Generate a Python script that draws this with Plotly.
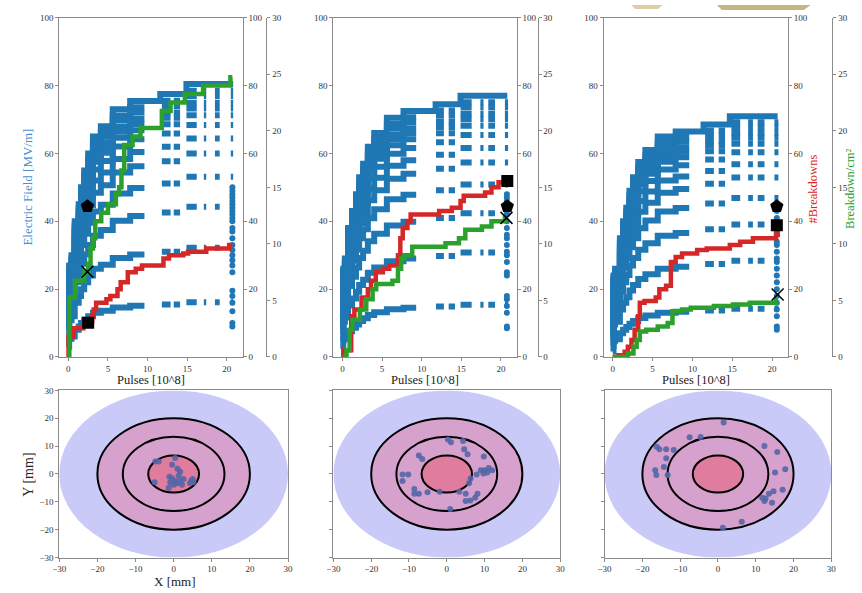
import plotly.graph_objects as go

W, H = 862, 593

# ---------------- data ----------------
PULSE_TICKS = [0, 5, 10, 15, 20]
FIELD_TICKS = [0, 20, 40, 60, 80, 100]
DENS_TICKS = [0, 5, 10, 15, 20, 25, 30]
MM_TICKS = [-30, -20, -10, 0, 10, 20, 30]

# pulse-shape sampling rows, as fraction of the stage's peak field
ROW_FRACS = [1.0, 0.975, 0.955, 0.93, 0.91, 0.885, 0.85, 0.80, 0.745, 0.66, 0.55, 0.40, 0.20]

# conditioning staircase (peak field, MV/m) per structure
ENV_X_1 = [0, 0.1, 0.4, 0.8, 1.3, 1.6, 2.0, 2.5, 3.1, 4.1, 5.6, 7.8, 11.6, 14.9, 20.8]
ENV_E_1 = [15, 27, 30, 40, 45, 50, 55, 60, 65, 68, 73, 75.5, 77.5, 80.5, 80.5]
ENV_X_2 = [0, 0.1, 0.3, 0.7, 1.2, 1.7, 2.1, 2.6, 3.2, 4.0, 5.6, 7.7, 11.75, 14.9, 20.8]
ENV_E_2 = [12, 26, 29, 38, 43, 48, 53, 57, 62, 66, 70.5, 72.5, 74.5, 77, 77]
ENV_X_3 = [0, 0.1, 0.3, 0.9, 1.3, 1.7, 2.1, 2.55, 3.2, 4.1, 5.65, 7.9, 11.4, 14.7, 20.7]
ENV_E_3 = [8, 24, 26, 35, 40, 44, 49, 53, 57.5, 61, 65, 66.5, 68.5, 71, 71]

# pulse intervals where full pulse shapes were recorded
SAMPLE_1 = [(0, 9.6), (11.8, 12.9), (13.3, 14.1), (14.9, 16.2), (17.1, 17.4), (18.5, 19.1), (20.5, 20.8)]
SAMPLE_2 = [(0, 9.3), (11.8, 12.8), (13.4, 14.2), (14.9, 16.3), (17.4, 17.8), (18.4, 19.25), (20.5, 20.9)]
SAMPLE_3 = [(0, 9.6), (11.6, 12.7), (13.3, 14.1), (14.9, 16.0), (17.0, 17.6), (18.2, 19.05), (20.3, 20.8)]

# final check column of field values
COL_X = [20.7, 20.75, 20.6]
COL_E_1 = [9, 10, 13.5, 16, 18, 19.5, 25, 27, 28.5, 30, 31.5, 33, 35, 37, 38, 40, 41, 42, 43, 44, 45, 46, 47, 48, 49, 50]
COL_E_2 = [8.5, 9, 13, 15, 17, 18, 24, 25, 28, 30, 31, 33, 35, 36, 38, 40, 42, 43, 45, 46, 47, 48]
COL_E_3 = [8, 9, 12, 14, 16, 18, 20, 22, 24, 26, 28, 29, 31, 33, 34, 36, 37, 39, 41, 43, 44]

# cumulative number of breakdowns
RED_X_1 = [0, 0.02, 0.6, 1.9, 3.0, 3.2, 3.5, 4.8, 5.3, 6.2, 6.6, 7.5, 8.5, 9.3, 12.0, 12.7, 14.5, 15.1, 17.4, 20.3, 20.7]
RED_Y_1 = [0, 6, 8.5, 10.5, 12, 14, 16, 17, 18, 20, 22, 25, 26, 27, 29, 30, 30.5, 31, 32, 33, 33]
RED_X_2 = [0, 0.1, 1.1, 1.5, 2.4, 3.2, 3.6, 4.2, 5.1, 5.9, 7.0, 7.3, 7.6, 8.2, 8.6, 12.2, 13.8, 14.9, 15.3, 18.0, 18.8, 19.7, 20.7]
RED_Y_2 = [0, 2, 12, 14, 17.5, 20, 22.5, 25, 26, 27, 30, 35, 38, 40, 42, 43, 44, 46, 47.5, 48.5, 50, 51.5, 52]
RED_X_3 = [0, 0.7, 1.5, 1.9, 2.35, 2.75, 3.2, 3.4, 4.0, 5.4, 5.85, 6.7, 7.3, 7.9, 8.7, 10.6, 11.8, 14.7, 16.0, 17.6, 20.5, 20.7]
RED_Y_3 = [0, 0.5, 1.5, 3, 5, 8, 12, 16, 16.5, 17.5, 20, 21, 28, 29.5, 30.5, 31.5, 32, 33, 34, 35, 36, 38.5]

# breakdowns per cm^2
GREEN_X_1 = [0, 0.12, 0.83, 2.0, 2.5, 2.8, 3.1, 3.4, 4.15, 5.0, 6.0, 6.4, 6.7, 7.05, 8.1, 9.1, 11.8, 12.9, 14.7, 17.0, 20.45, 20.7]
GREEN_Y_1 = [0, 5.25, 6.75, 7.5, 8.25, 9.6, 10.5, 12, 12.75, 13.5, 14.4, 15, 16.5, 18.75, 19.5, 20.25, 21.75, 22.5, 23.25, 24, 24.75, 24.75]
GREEN_X_2 = [0, 0.5, 0.9, 1.25, 2.2, 3.0, 3.8, 4.25, 6.3, 7.0, 7.4, 7.8, 8.8, 13.0, 14.7, 15.5, 17.6, 18.8, 20.5, 20.7]
GREEN_Y_2 = [0, 0.6, 2.4, 3.3, 4.2, 5.1, 6.0, 6.45, 6.75, 7.8, 8.7, 9.0, 9.75, 10.05, 10.5, 11.25, 11.55, 12.0, 12.3, 12.3]
GREEN_X_3 = [0, 1.9, 2.6, 3.0, 3.4, 4.2, 5.65, 6.9, 7.5, 8.7, 9.8, 12.7, 15.1, 17.2, 20.5, 20.7]
GREEN_Y_3 = [0, 0.3, 0.9, 1.5, 2.25, 2.4, 2.7, 3.0, 4.05, 4.2, 4.35, 4.5, 4.65, 4.8, 5.1, 5.1]

# highlighted points (left-axis units)
PENT_X = [2.4, 20.8, 20.6]
PENT_Y = [44.4, 44.4, 44.4]
SQ_X = [2.5, 20.8, 20.6]
SQ_Y = [10.1, 51.9, 38.8]
CROSS_X = [2.4, 20.7, 20.7]
CROSS_Y = [25.1, 41.0, 18.4]

# breakdown locations on the iris (mm)
BD_X_1 = [-4.8, -3.9, 0.4, -0.4, 1.0, 1.7, -1.1, -0.4, 0.4, 0.9, -0.9, 0.0, 1.7, 2.2, 2.6, 4.6, 5.0, 5.2, 4.3, -1.3, -5.0, 1.3]
BD_Y_1 = [4.5, 4.5, 5.7, 3.3, 1.9, 0.8, -1.0, -1.6, -2.5, -3.3, -3.1, -3.9, -2.5, -3.9, -1.8, -2.5, -1.8, -3.0, -3.3, -5.0, -3.0, -0.6]
BD_X_2 = [0.3, 1.1, 4.3, 4.6, 5.5, 9.8, -7.4, -6.5, -11.7, -10.2, -11.7, -8.6, -8.6, -7.4, -5.1, -1.9, 3.3, 5.0, 6.2, 5.0, 7.5, 8.1, 0.9, 7.9, 9.0, 10.0, 10.7, 11.1, 12.0, 9.7, 5.9, 6.3]
BD_Y_2 = [12.4, 11.4, 11.8, 8.9, 7.1, 6.3, 6.6, 5.4, -0.2, -0.2, -2.5, -5.4, -7.1, -7.1, -6.6, -6.4, -6.4, -7.1, -9.5, -9.7, -8.5, -7.1, -12.6, -0.2, 1.3, 1.3, 0.5, 2.1, 1.3, 0.2, -3.3, -1.6]
BD_X_3 = [1.5, -7.5, -4.6, 12.3, 15.7, -16.2, -15.5, -13.7, -11.7, -13.7, -14.3, -16.6, -16.3, -13.3, 15.1, 17.8, 11.7, 12.6, 13.5, 14.7, 17.1, 14.3, 12.3, 6.3, 1.3]
BD_Y_3 = [18.5, 13.2, 13.3, 10.0, 7.9, 9.8, 8.9, 8.9, 8.6, 5.6, 2.5, 1.3, -0.4, -0.4, 0.5, 1.7, -8.5, -8.8, -7.1, -6.2, -5.7, -10.3, -9.7, -17.2, -19.3]

RING_R = [30, 20, 40 / 3, 20 / 3]

# ---------------- style ----------------
BLUE = "#1f77b4"
RED = "#d62728"
GREEN = "#2ca02c"
SERIF = "Liberation Serif, Times New Roman, serif"
TICKFONT = dict(family=SERIF, size=9, color="#333")
AXC = "#8a8a8a"

TOP_X = [(53, 239), (331, 517), (605, 792)]
OFFSET_X = [263, 538, 837]
TOP_Y = (13, 358)
BOT_X = [(53, 285), (331, 561), (606, 836)]
BOT_Y = (392, 562)


def px(x):
    return x / W


def py(y):
    return 1 - y / H


def step_val(xs, es, x):
    v = es[0]
    for k in range(len(xs)):
        if xs[k] <= x:
            v = es[k]
    return v


def rows_xy(env_x, env_e, segs):
    X, Y = [], []
    for f in ROW_FRACS:
        use = [(env_x[0], env_x[-1])] if f >= 1 else segs
        for a, b in use:
            pts = [a] + [x for x in env_x if a < x < b] + [b]
            for x in pts:
                X.append(x)
                Y.append(f * step_val(env_x, env_e, x))
            X.append(None)
            Y.append(None)
    return X, Y


ENVS = [(ENV_X_1, ENV_E_1, SAMPLE_1), (ENV_X_2, ENV_E_2, SAMPLE_2), (ENV_X_3, ENV_E_3, SAMPLE_3)]
COLS = [COL_E_1, COL_E_2, COL_E_3]
REDS = [(RED_X_1, RED_Y_1), (RED_X_2, RED_Y_2), (RED_X_3, RED_Y_3)]
GREENS = [(GREEN_X_1, GREEN_Y_1), (GREEN_X_2, GREEN_Y_2), (GREEN_X_3, GREEN_Y_3)]
BDS = [(BD_X_1, BD_Y_1), (BD_X_2, BD_Y_2), (BD_X_3, BD_Y_3)]

fig = go.Figure()
layout = dict(
    width=W, height=H, margin=dict(l=0, r=0, t=0, b=0),
    paper_bgcolor="white", plot_bgcolor="white", showlegend=False,
)
common = dict(showline=True, linecolor=AXC, linewidth=1, ticks="outside", ticklen=3,
              tickcolor=AXC, tickwidth=1, showgrid=False, zeroline=False, tickfont=TICKFONT)

shapes = []
annotations = []

for i in range(3):
    n = i + 1
    xa = "x" if n == 1 else f"x{n}"
    ya = "y" if n == 1 else f"y{n}"
    yr = f"y{3 + n}"
    yo = f"y{6 + n}"
    ym = f"y{9 + n}"
    ex, ee, segs = ENVS[i]
    rx, ry = rows_xy(ex, ee, segs)
    fig.add_trace(go.Scatter(x=rx, y=ry, xaxis=xa, yaxis=ya, mode="lines",
                             line=dict(color=BLUE, width=6, shape="hv"), hoverinfo="skip"))
    fig.add_trace(go.Scatter(x=[COL_X[i]] * len(COLS[i]), y=COLS[i], xaxis=xa, yaxis=ya, mode="markers",
                             marker=dict(color=BLUE, size=6), hoverinfo="skip"))
    fig.add_trace(go.Scatter(x=REDS[i][0], y=REDS[i][1], xaxis=xa, yaxis=yr, mode="lines",
                             line=dict(color=RED, width=4.5, shape="hv")))
    fig.add_trace(go.Scatter(x=GREENS[i][0], y=GREENS[i][1], xaxis=xa, yaxis=yo, mode="lines",
                             line=dict(color=GREEN, width=4.5, shape="hv")))
    fig.add_trace(go.Scatter(x=[PENT_X[i]], y=[PENT_Y[i]], xaxis=xa, yaxis=ym, mode="markers",
                             marker=dict(symbol="pentagon", size=14, color="black")))
    fig.add_trace(go.Scatter(x=[SQ_X[i]], y=[SQ_Y[i]], xaxis=xa, yaxis=ym, mode="markers",
                             marker=dict(symbol="square", size=12, color="black")))
    fig.add_trace(go.Scatter(x=[CROSS_X[i]], y=[CROSS_Y[i]], xaxis=xa, yaxis=ym, mode="markers",
                             marker=dict(symbol="x-thin-open", size=12, color="black",
                                         line=dict(color="black", width=1.5))))

    x0, x1 = TOP_X[i]
    dom_x = [px(x0), px(x1)]
    dom_y = [py(TOP_Y[1]), py(TOP_Y[0])]
    xkey = "xaxis" if n == 1 else f"xaxis{n}"
    layout[xkey] = dict(common, domain=dom_x, range=[-1.15, 22.0], tickvals=PULSE_TICKS,
                        anchor=ya, mirror=True)
    layout["yaxis" if n == 1 else f"yaxis{n}"] = dict(common, domain=dom_y, range=[0, 100],
                                                      tickvals=FIELD_TICKS, anchor=xa)
    layout[f"yaxis{3 + n}"] = dict(common, range=[0, 100], tickvals=FIELD_TICKS, overlaying=ya,
                                   side="right", anchor=xa)
    layout[f"yaxis{6 + n}"] = dict(common, range=[0, 30], tickvals=DENS_TICKS, overlaying=ya,
                                   side="right", anchor="free", position=px(OFFSET_X[i]))
    layout[f"yaxis{9 + n}"] = dict(range=[0, 100], overlaying=ya, anchor=xa, visible=False)

    annotations.append(dict(text="Pulses [10^8]", x=px((x0 + x1) / 2), y=py(381), xref="paper", yref="paper",
                            showarrow=False, xanchor="center", yanchor="middle",
                            font=dict(family=SERIF, size=12.5, color="#222")))

    # bottom maps
    bx = f"x{3 + n}"
    by = f"y{12 + n}"
    bdx, bdy = BDS[i]
    fig.add_trace(go.Scatter(x=bdx, y=bdy, xaxis=bx, yaxis=by, mode="markers",
                             marker=dict(color="#5466a6", size=6, opacity=0.9)))
    b0, b1 = BOT_X[i]
    layout[f"xaxis{3 + n}"] = dict(common, domain=[px(b0), px(b1)], range=[-30, 30], tickvals=MM_TICKS,
                                   anchor=by, mirror=True)
    layout[f"yaxis{12 + n}"] = dict(common, domain=[py(BOT_Y[1]), py(BOT_Y[0])], range=[-30, 30],
                                    tickvals=MM_TICKS, anchor=bx, mirror=True, showticklabels=(n == 1))
    fills = ["#cacaf9", "#d6a2cd", "rgba(0,0,0,0)", "#e07c9e"]
    for k, r in enumerate(RING_R):
        shapes.append(dict(type="circle", xref=bx, yref=by, x0=-r, x1=r, y0=-r, y1=r,
                           fillcolor=fills[k], layer="below",
                           line=dict(color="black", width=0 if k == 0 else 2)))

annotations += [
    dict(text="Electric Field [MV/m]", x=px(21), y=py(185), textangle=-90,
         font=dict(family=SERIF, size=13, color="#4a90d0")),
    dict(text="#Breakdowns", x=px(817), y=py(187), textangle=-90,
         font=dict(family=SERIF, size=12.5, color=RED)),
    dict(text="Breakdown/cm²", x=px(855), y=py(187), textangle=-90,
         font=dict(family=SERIF, size=12.5, color=GREEN)),
    dict(text="Y [mm]", x=px(22), y=py(478), textangle=-90,
         font=dict(family=SERIF, size=14, color="#222")),
    dict(text="X [mm]", x=px(170), y=py(586),
         font=dict(family=SERIF, size=13, color="#222")),
]
for a in annotations:
    a.setdefault("xref", "paper")
    a.setdefault("yref", "paper")
    a.setdefault("showarrow", False)
    a.setdefault("xanchor", "center")
    a.setdefault("yanchor", "middle")

# decorative tan shapes at top edge
shapes.append(dict(type="path", xref="paper", yref="paper",
                   path=f"M {px(633)},{py(0)} L {px(665)},{py(0)} L {px(660)},{py(4)} L {px(637)},{py(4)} Z",
                   fillcolor="#dccfa8", line=dict(width=0)))
shapes.append(dict(type="path", xref="paper", yref="paper",
                   path=f"M {px(720)},{py(0)} L {px(815)},{py(0)} L {px(808)},{py(5)} L {px(725)},{py(5)} Z",
                   fillcolor="#c9b583", line=dict(width=0)))

layout["shapes"] = shapes
layout["annotations"] = annotations
fig.update_layout(**layout)
fig.write_html("out.html", config={"displayModeBar": False},
               post_script="document.body.style.margin='0';document.body.style.overflow='hidden';")
